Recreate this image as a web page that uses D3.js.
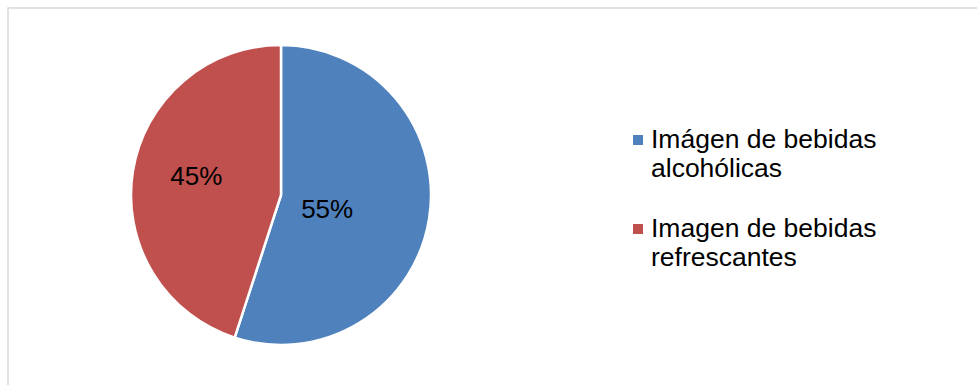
<!DOCTYPE html>
<html><head><meta charset="utf-8">
<script src="https://cdn.jsdelivr.net/npm/d3@7"></script>
<style>html,body{margin:0;padding:0;background:#fff;}svg{display:block;}</style>
</head><body>
<svg id="chart" width="977" height="385"></svg>
<script>
const categories = ["Imágen de bebidas alcohólicas", "Imagen de bebidas refrescantes"];
const legendLines = [["Imágen de bebidas", "alcohólicas"], ["Imagen de bebidas", "refrescantes"]];
const values = [55, 45];
const labels = ["55%", "45%"];
const colors = ["#4F81BD", "#C0504D"];

const svg = d3.select("#chart");
const W = 977, H = 385;
svg.append("rect").attr("x", 8).attr("y", 8).attr("width", W).attr("height", H)
  .attr("fill", "#fff").attr("stroke", "#D9D9D9").attr("stroke-width", 1.5);

const cx = 281, cy = 195, r = 150;
const pie = d3.pie().sort(null).value(d => d)(values);
const arc = d3.arc().innerRadius(0).outerRadius(r);
// label placement (style): radius fraction and angular nudge per slice
const labelRadius = [0.32, 0.58];
const labelNudge = [0.12, 0.07];
const g = svg.append("g").attr("transform", `translate(${cx},${cy})`);
g.selectAll("path").data(pie).join("path")
  .attr("d", arc).attr("fill", (d, i) => colors[i])
  .attr("stroke", "#fff").attr("stroke-width", 2.5).attr("stroke-linejoin", "round");
g.selectAll("text").data(pie).join("text")
  .attr("transform", (d, i) => {
    const a = (d.startAngle + d.endAngle) / 2 + labelNudge[i];
    const rr = r * labelRadius[i];
    return `translate(${rr * Math.sin(a)},${-rr * Math.cos(a)})`;
  })
  .attr("text-anchor", "middle").attr("dy", "0.36em")
  .attr("font-family", "Liberation Sans, Arial, sans-serif").attr("font-size", 26)
  .attr("fill", "#000").text((d, i) => labels[i]);

const lg = svg.append("g");
const itemY = [148, 237];
categories.forEach((c, i) => {
  lg.append("rect").attr("x", 633).attr("y", itemY[i] - 13).attr("width", 10).attr("height", 10).attr("fill", colors[i]);
  const t = lg.append("text").attr("x", 651).attr("y", itemY[i])
    .attr("font-family", "Liberation Sans, Arial, sans-serif").attr("font-size", 26.5).attr("fill", "#000");
  legendLines[i].forEach((ln, j) => t.append("tspan").attr("x", 651).attr("dy", j === 0 ? 0 : 29).text(ln));
});
</script>
</body></html>
